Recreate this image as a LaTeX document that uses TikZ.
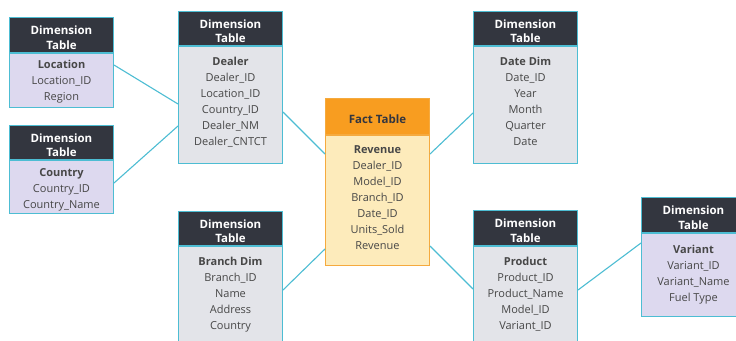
\documentclass[tikz,border=0pt]{standalone}
\usepackage{fontspec}
\setmainfont{Open Sans}
\usetikzlibrary{calc}
\definecolor{hdr}{HTML}{33363F}
\definecolor{tealb}{HTML}{4DBDD3}
\definecolor{grayb}{HTML}{E3E4E9}
\definecolor{lavb}{HTML}{DDD9EF}
\definecolor{facth}{HTML}{F89D20}
\definecolor{factb}{HTML}{FDEBBB}
\definecolor{factl}{HTML}{F5AA3E}
\definecolor{txt}{HTML}{474747}
\tikzset{
  link/.style={draw=tealb, line width=1.1pt},
  hbox/.style={fill=hdr, draw=tealb, line width=1pt, inner sep=0pt, anchor=south west,
    minimum width=104pt},
  htext/.style={inner sep=0pt, text=white, font=\fontsize{11.5}{14.5}\selectfont\bfseries, align=center},
  bbox/.style={draw=tealb, line width=1pt, inner sep=0pt, anchor=north west, minimum width=104pt},
  rows/.style={anchor=north, inner sep=0pt, align=center, text=txt,
    font=\fontsize{11}{16}\selectfont},
}
\newcommand\dimtbl[8]{%
  % #1 name, #2 left x, #3 top y, #4 header bottom y, #5 bottom y, #6 body fill, #7 first row offset, #8 rows
  \node[bbox, fill=#6, minimum height={(#5)-(#4)}] (#1) at (#2,#4) {};
  \node[hbox, minimum height={(#4)-(#3)}] (#1h) at (#2,#4) {};
  \node[htext] (#1ht) at ([yshift=-2.5pt]#1h.center) {Dimension\\Table};
  \node[rows] (#1t) at ([yshift=-#7pt]#1.north) {#8};
}
\begin{document}
\begin{tikzpicture}[x=1pt,y=-1pt]
\useasboundingbox (0,0) rectangle (736,340);
\clip (0,0) rectangle (736,340);
\fill[white] (0,0) rectangle (736,340);

\dimtbl{loc}{9}{18}{53}{107}{lavb}{7}{\textbf{Location}\\Location\_ID\\Region}
\dimtbl{cty}{9}{126}{160}{213}{lavb}{8}{\textbf{Country}\\Country\_ID\\Country\_Name}
\dimtbl{dea}{178}{12}{46}{163}{grayb}{11}{\textbf{Dealer}\\Dealer\_ID\\Location\_ID\\Country\_ID\\Dealer\_NM\\Dealer\_CNTCT}
\dimtbl{dat}{473}{12}{46}{163}{grayb}{11}{\textbf{Date Dim}\\Date\_ID\\Year\\Month\\Quarter\\Date}
\dimtbl{bra}{178}{212}{246}{345}{grayb}{11}{\textbf{Branch Dim}\\Branch\_ID\\Name\\Address\\Country}
\dimtbl{pro}{473}{211}{246}{345}{grayb}{11}{\textbf{Product}\\Product\_ID\\Product\_Name\\Model\_ID\\Variant\_ID}
\dimtbl{var}{641}{198}{233}{316}{lavb}{11.5}{\textbf{Variant}\\Variant\_ID\\Variant\_Name\\Fuel Type}

% fact table
\node[bbox, draw=factl, fill=factb, minimum height=130pt] (fac) at (325,135) {};
\node[hbox, draw=factl, fill=facth, minimum height=36pt] (fach) at (325,135) {};
\node[htext, text=hdr] (facht) at ([yshift=-2.5pt]fach.center) {Fact Table};
\node[rows] (fact) at ([yshift=-10pt]fac.north) {\textbf{Revenue}\\Dealer\_ID\\Model\_ID\\Branch\_ID\\Date\_ID\\Units\_Sold\\Revenue};

% connectors
\draw[link] ([yshift=-12pt]loc.north east) -- ([yshift=-58pt]dea.north west);
\draw[link] ([yshift=-23pt]cty.north east) -- ([yshift=-80pt]dea.north west);
\draw[link] ([yshift=-66pt]dea.north east) -- ([yshift=-19pt]fac.north west);
\draw[link] ([yshift=-19pt]fac.north east) -- ([yshift=-67pt]dat.north west);
\draw[link] ([yshift=-114pt]fac.north west) -- ([yshift=-44pt]bra.north east);
\draw[link] ([yshift=-111pt]fac.north east) -- ([yshift=-43pt]pro.north west);
\draw[link] ([yshift=-44pt]pro.north east) -- ([yshift=-10pt]var.north west);
\end{tikzpicture}
\end{document}
